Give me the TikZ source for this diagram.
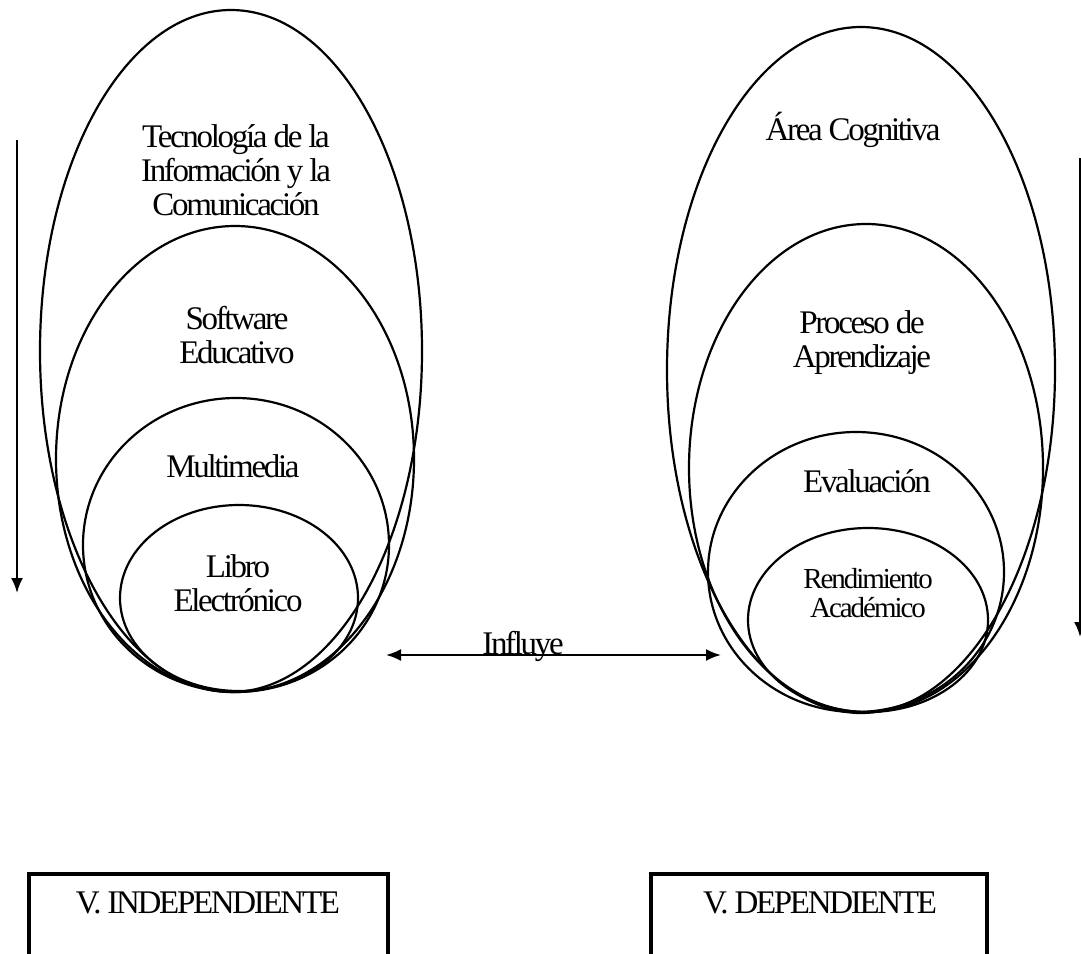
\documentclass[tikz,border=0pt]{standalone}
\usepackage{fontspec}
\setmainfont{Liberation Serif}
\usetikzlibrary{arrows.meta}
\begin{document}
\begin{tikzpicture}[x=1pt,y=-1pt,
  ell/.style={line width=2.2pt},
  lbl/.style={align=center,inner sep=0pt,font=\fontsize{33}{34}\selectfont\addfontfeatures{LetterSpace=-7}},
  lblsm/.style={align=center,inner sep=0pt,font=\fontsize{29}{29}\selectfont\addfontfeatures{LetterSpace=-7}},
  arr/.style={line width=2.2pt,-{Latex[length=15pt,width=12pt]}},
  varbox/.style={line width=4pt}]
\useasboundingbox (0,0) rectangle (1081,953);
% left ellipses
\draw[ell] (231,351) ellipse [x radius=191, y radius=341];
\draw[ell] (235,459) ellipse [x radius=179, y radius=233];
\draw[ell] (236,545) ellipse [x radius=153, y radius=147];
\draw[ell] (239,598) ellipse [x radius=119, y radius=93];
% right ellipses
\draw[ell] (861,370) ellipse [x radius=194, y radius=343];
\draw[ell] (866,468) ellipse [x radius=177, y radius=244];
\draw[ell] (856,572) ellipse [x radius=148, y radius=140];
\draw[ell] (868,620) ellipse [x radius=120, y radius=92];
% labels
\node[lbl] (tic) at (236,170) {Tecnología de la\\Información y la\\Comunicación};
\node[lbl] (soft) at (237,335) {Software\\Educativo};
\node[lbl] (multi) at (233,466) {Multimedia};
\node[lbl] (libro) at (238,583) {Libro\\Electrónico};
\node[lbl] (area) at (853,130) {Área Cognitiva};
\node[lbl] (proc) at (862,343) {Proceso de\\Aprendizaje};
\node[lbl] (eval) at (867,481) {Evaluación};
\node[lblsm] (rend) at (868,593) {Rendimiento\\Académico};
% arrows
\coordinate (la1) at (17,140);
\coordinate (la2) at (17,593);
\draw[arr] (la1) -- (la2);
\coordinate (ra1) at (1080,158);
\coordinate (ra2) at (1080,637);
\draw[arr] (ra1) -- (ra2);
\coordinate (ma1) at (386,655);
\coordinate (ma2) at (721,655);
\draw[line width=2.2pt,{Latex[length=15pt,width=12pt]}-{Latex[length=15pt,width=12pt]}] (ma1) -- (ma2);
\node[lbl,anchor=base] (infl) at (523,654) {Influye};
% boxes
\draw[varbox] (29,990) |- (388,874) -- (388,990);
\draw[varbox] (651,990) |- (987,874) -- (987,990);
\node[lbl] (vi) at (208,903) {V. INDEPENDIENTE};
\node[lbl] (vd) at (820,903) {V. DEPENDIENTE};
\end{tikzpicture}
\end{document}
